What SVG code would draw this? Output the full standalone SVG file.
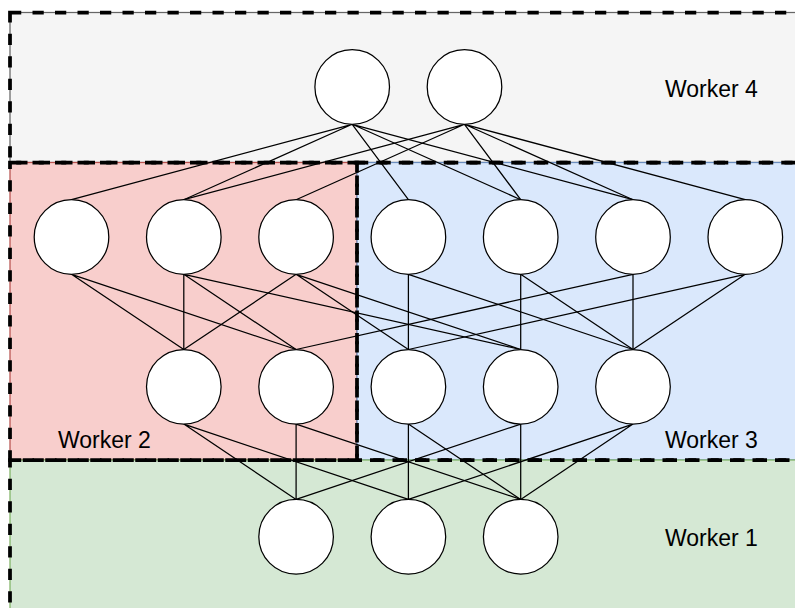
<svg xmlns="http://www.w3.org/2000/svg" width="795" height="608" viewBox="0 0 795 608">
  <style>
    .dash { fill: none; stroke: #000; stroke-width: 3.75; stroke-dasharray: 11.25 11.25; }
    .edge { fill: none; stroke: #000; stroke-width: 1.25; }
    .node { fill: #fff; stroke: #000; stroke-width: 1.25; }
    .lbl { font-family: "Liberation Sans", Arial, Helvetica, sans-serif; font-size: 23px; fill: #000; }
  </style>
  <rect width="795" height="608" fill="#fff"/>
  <g id="regions">
    <g id="worker4">
      <rect x="10" y="12.5" width="800" height="150" fill="#f5f5f5" stroke="#666666" stroke-width="1.25"/>
    </g>
    <g id="worker2">
      <rect x="10" y="162.5" width="347" height="297.5" fill="#f8cecc" stroke="#b85450" stroke-width="1.25"/>
    </g>
    <g id="worker3">
      <rect x="357" y="162.5" width="450" height="297.5" fill="#dae8fc" stroke="#6c8ebf" stroke-width="1.25"/>
    </g>
    <g id="worker1">
      <rect x="10" y="460" width="800" height="160" fill="#d5e8d4" stroke="#82b366" stroke-width="1.25"/>
    </g>
    <g id="borders">
      <rect class="dash" x="10" y="12.5" width="800" height="150"/>
      <rect class="dash" x="357" y="162.5" width="450" height="297.5"/>
      <rect class="dash" x="10" y="460" width="800" height="160"/>
      <rect class="dash" x="10" y="162.5" width="347" height="297.5"/>
    </g>
  </g>
  <g id="connectors">
    <path class="edge" d="M352.2 124.3L71.5 199.7M352.2 124.3L183.8 199.7M352.2 124.3L408.4 199.7M352.2 124.3L520.7 199.7M352.2 124.3L633 199.7"/>
    <path class="edge" d="M464.5 124.3L183.8 199.7M464.5 124.3L296.1 199.7M464.5 124.3L520.7 199.7M464.5 124.3L633 199.7M464.5 124.3L745.3 199.7"/>
    <path class="edge" d="M71.5 274.3L183.8 349.5M71.5 274.3L296.1 349.5"/>
    <path class="edge" d="M183.8 274.3L183.8 349.5M183.8 274.3L296.1 349.5M183.8 274.3L520.7 349.5"/>
    <path class="edge" d="M296.1 274.3L183.8 349.5M296.1 274.3L408.4 349.5M296.1 274.3L520.7 349.5"/>
    <path class="edge" d="M408.4 274.3L408.4 349.5M408.4 274.3L633 349.5"/>
    <path class="edge" d="M520.7 274.3L520.7 349.5M520.7 274.3L633 349.5"/>
    <path class="edge" d="M633 274.3L296.1 349.5M633 274.3L633 349.5"/>
    <path class="edge" d="M745.3 274.3L408.4 349.5M745.3 274.3L633 349.5"/>
    <path class="edge" d="M183.8 424.1L296.1 499.4M183.8 424.1L408.4 499.4"/>
    <path class="edge" d="M296.1 424.1L296.1 499.4M296.1 424.1L520.7 499.4"/>
    <path class="edge" d="M408.4 424.1L408.4 499.4M408.4 424.1L520.7 499.4"/>
    <path class="edge" d="M520.7 424.1L296.1 499.4M520.7 424.1L520.7 499.4"/>
    <path class="edge" d="M633 424.1L408.4 499.4M633 424.1L520.7 499.4"/>
  </g>
  <g id="nodes">
    <g id="a1"><circle class="node" cx="352.2" cy="87" r="37.3"/></g>
    <g id="a2"><circle class="node" cx="464.5" cy="87" r="37.3"/></g>
    <g id="c1"><circle class="node" cx="71.5" cy="237" r="37.3"/></g>
    <g id="c2"><circle class="node" cx="183.8" cy="237" r="37.3"/></g>
    <g id="c3"><circle class="node" cx="296.1" cy="237" r="37.3"/></g>
    <g id="c4"><circle class="node" cx="408.4" cy="237" r="37.3"/></g>
    <g id="c5"><circle class="node" cx="520.7" cy="237" r="37.3"/></g>
    <g id="c6"><circle class="node" cx="633" cy="237" r="37.3"/></g>
    <g id="c7"><circle class="node" cx="745.3" cy="237" r="37.3"/></g>
    <g id="b1"><circle class="node" cx="183.8" cy="386.8" r="37.3"/></g>
    <g id="b2"><circle class="node" cx="296.1" cy="386.8" r="37.3"/></g>
    <g id="b3"><circle class="node" cx="408.4" cy="386.8" r="37.3"/></g>
    <g id="b4"><circle class="node" cx="520.7" cy="386.8" r="37.3"/></g>
    <g id="b5"><circle class="node" cx="633" cy="386.8" r="37.3"/></g>
    <g id="d1"><circle class="node" cx="296.1" cy="536.7" r="37.3"/></g>
    <g id="d2"><circle class="node" cx="408.4" cy="536.7" r="37.3"/></g>
    <g id="d3"><circle class="node" cx="520.7" cy="536.7" r="37.3"/></g>
  </g>
  <g id="labels">
    <text class="lbl" x="665" y="97">Worker 4</text>
    <text class="lbl" x="58" y="448">Worker 2</text>
    <text class="lbl" x="665" y="448">Worker 3</text>
    <text class="lbl" x="665" y="546">Worker 1</text>
  </g>
</svg>
